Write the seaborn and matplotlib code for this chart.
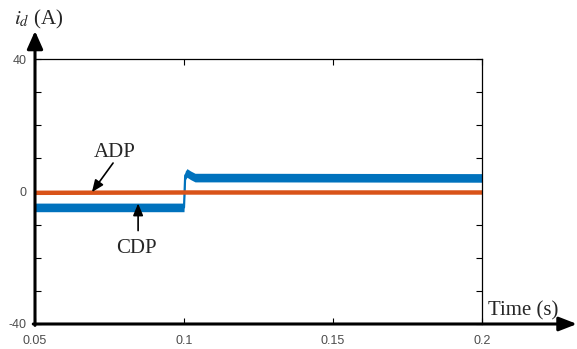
import matplotlib
matplotlib.use("Agg")
import matplotlib.pyplot as plt
import seaborn as sns
import pandas as pd

# data
t_cdp = [0.05, 0.1000, 0.1004, 0.1010, 0.1022, 0.1037, 0.1200, 0.2000]
id_cdp = [-4.8, -4.8, 4.8, 5.6, 4.9, 4.2, 4.2, 4.1]
cdp_ripple = 1.3  # half-width of the ripple band (A)
t_adp = [0.05, 0.1, 0.2]
id_adp = [-0.4, -0.3, -0.3]

x_ticks = [0.05, 0.1, 0.15, 0.2]
x_labels = ["0.05", "0.1", "0.15", "0.2"]
y_ticks = [-40, -30, -20, -10, 0, 10, 20, 30, 40]
y_labels = ["-40", "", "", "", "0", "", "", "", "40"]

df_cdp = pd.DataFrame({"t": t_cdp, "id": id_cdp})
df_adp = pd.DataFrame({"t": t_adp, "id": id_adp})

sns.set_theme(style="white")
plt.rcParams["font.family"] = ["Liberation Sans", "DejaVu Sans"]
plt.rcParams["mathtext.fontset"] = "stix"

W, H = 577, 349
fig = plt.figure(figsize=(W / 100, H / 100), dpi=100)
ax = fig.add_axes([35 / W, 1 - 324 / H, (482 - 35) / W, (324 - 59) / H])

blue = "#0072BD"
ax.fill_between(df_cdp["t"], df_cdp["id"] - cdp_ripple, df_cdp["id"] + cdp_ripple,
                color=blue, linewidth=0)
sns.lineplot(data=df_cdp, x="t", y="id", ax=ax, estimator=None, sort=False,
             color=blue, linewidth=1.6)
sns.lineplot(data=df_adp, x="t", y="id", ax=ax, estimator=None, sort=False,
             color="#D95319", linewidth=3.2, solid_capstyle="butt")

ax.set_xlim(0.05, 0.2)
ax.set_ylim(-40, 40)
ax.set_xticks(x_ticks)
ax.set_xticklabels(x_labels)
ax.set_yticks(y_ticks)
ax.set_yticklabels(y_labels)
ax.set_xlabel("")
ax.set_ylabel("")
ax.tick_params(axis="both", direction="in", length=4, width=0.8, color="black",
               labelsize=9, labelcolor="#4d4d4d", top=True, right=True,
               left=True, bottom=True)
ax.tick_params(axis="x", pad=8)
ax.tick_params(axis="y", pad=6)

for side in ["top", "right"]:
    ax.spines[side].set_linewidth(0.9)
    ax.spines[side].set_color("black")
    ax.spines[side].set_visible(True)
for side in ["left", "bottom"]:
    ax.spines[side].set_visible(False)

# thick axis arrows
x0, y0 = 35 / W, 1 - 324 / H
ax.annotate("", xy=(x0, 1 - 31 / H), xytext=(x0, y0 - 0.004),
            xycoords="figure fraction", textcoords="figure fraction",
            arrowprops=dict(arrowstyle="-|>,head_length=0.9,head_width=0.4",
                            color="black", lw=2.2, shrinkA=0, shrinkB=0))
ax.annotate("", xy=(1.0, y0), xytext=(x0 - 0.003, y0),
            xycoords="figure fraction", textcoords="figure fraction",
            arrowprops=dict(arrowstyle="-|>,head_length=0.9,head_width=0.35",
                            color="black", lw=2.2, shrinkA=0, shrinkB=0))

serif = ["Liberation Serif", "DejaVu Serif"]
fig.text(14 / W, 1 - 19 / H, r"$i_d$ (A)", family=serif, fontsize=15,
         ha="left", va="center")
fig.text(488 / W, 1 - 311 / H, "Time (s)", family=serif, fontsize=15,
         ha="left", va="center")

ax.text(0.0768, 11.8, "ADP", family=serif, fontsize=15, ha="center", va="center")
ax.annotate("", xy=(0.0691, -0.2), xytext=(0.0762, 8.6),
            arrowprops=dict(arrowstyle="-|>,head_length=0.6,head_width=0.25",
                            color="black", lw=1.2, shrinkA=0, shrinkB=0))
ax.text(0.0839, -17.3, "CDP", family=serif, fontsize=15, ha="center", va="center")
ax.annotate("", xy=(0.0846, -3.6), xytext=(0.0846, -11.8),
            arrowprops=dict(arrowstyle="-|>,head_length=0.6,head_width=0.25",
                            color="black", lw=1.2, shrinkA=0, shrinkB=0))

fig.savefig("out.png", dpi=100)
